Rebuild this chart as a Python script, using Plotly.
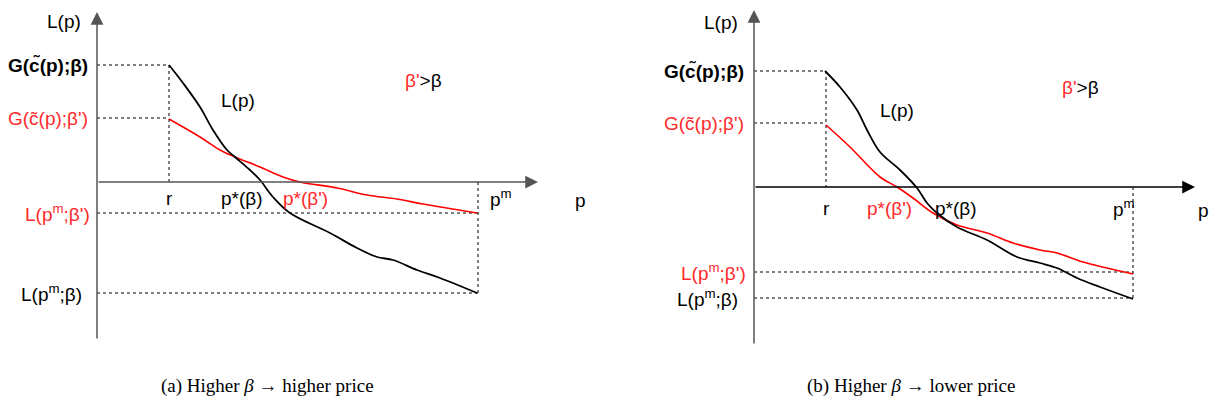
import plotly.graph_objects as go
from plotly.subplots import make_subplots

# panel (a): higher beta -> higher price
a_r, a_pm = 72, 381
a_G_b, a_G_bp = 117, 64
a_Lpm_b, a_Lpm_bp = -111, -31
a_black_x = [72, 86, 103, 116, 130, 138, 153, 163, 176, 193, 233, 260, 280, 296, 320, 343, 380]
a_black_y = [117, 99, 75, 52, 32, 25, 12, 2, -15, -31, -51, -66, -75, -78, -88, -96, -111]
a_red_x = [72, 103, 123, 138, 163, 186, 203, 240, 270, 300, 326, 380]
a_red_y = [63, 45, 32, 25, 15, 5, 0, -6, -13, -17, -22, -31]
a_pstar_b, a_pstar_bp = 145, 208

# panel (b): higher beta -> lower price
b_r, b_pm = 72, 379
b_G_b, b_G_bp = 116, 64
b_Lpm_b, b_Lpm_bp = -111, -85
b_black_x = [71, 86, 103, 113, 126, 146, 163, 173, 183, 203, 233, 263, 286, 303, 323, 346, 379]
b_black_y = [116, 100, 77, 57, 35, 17, -1, -16, -26, -40, -53, -70, -76, -81, -91, -100, -112]
b_red_x = [72, 96, 126, 143, 159, 179, 203, 233, 259, 286, 303, 329, 379]
b_red_y = [62, 40, 10, 0, -11, -26, -38, -46, -56, -63, -66, -75, -87]
b_pstar_b, b_pstar_bp = 202, 135

RED = "#ff2a2a"
FONT = "Liberation Sans"

fig = make_subplots(rows=1, cols=2, horizontal_spacing=0)


def panel(col, r, pm, G_b, G_bp, Lpm_b, Lpm_bp, bx, by, rx, ry, ps_b, ps_bp,
          ytop, ybot, xend, xaxis_col, lab, o):
    dot = dict(color="black", width=1, dash="dot")
    # dotted guides
    for yv in (G_b, G_bp):
        fig.add_trace(go.Scatter(x=[0, r], y=[yv, yv], mode="lines", line=dot), row=1, col=col)
    fig.add_trace(go.Scatter(x=[r, r], y=[G_b, 0], mode="lines", line=dot), row=1, col=col)
    for yv in (Lpm_b, Lpm_bp):
        fig.add_trace(go.Scatter(x=[0, pm], y=[yv, yv], mode="lines", line=dot), row=1, col=col)
    fig.add_trace(go.Scatter(x=[pm, pm], y=[0, Lpm_b], mode="lines", line=dot), row=1, col=col)
    # curves
    fig.add_trace(go.Scatter(x=rx, y=ry, mode="lines", line=dict(color="red", width=1.6, shape="spline")), row=1, col=col)
    fig.add_trace(go.Scatter(x=bx, y=by, mode="lines", line=dict(color="black", width=1.8, shape="spline")), row=1, col=col)
    xr = "x" if col == 1 else "x2"
    yr = "y" if col == 1 else "y2"
    # axes with arrows
    fig.add_annotation(x=0, y=ytop, ax=0, ay=ybot, xref=xr, yref=yr, axref=xr, ayref=yr,
                       showarrow=True, arrowhead=2, arrowsize=1.7, arrowwidth=1.5,
                       arrowcolor="#555555", text="")
    fig.add_annotation(x=xend, y=0, ax=0, ay=0, xref=xr, yref=yr, axref=xr, ayref=yr,
                       showarrow=True, arrowhead=2, arrowsize=1.7, arrowwidth=1.5,
                       arrowcolor=xaxis_col, text="")

    def txt(x, y, s, color="black", xanchor="center", size=19):
        fig.add_annotation(x=x, y=y, xref=xr, yref=yr, text=s, showarrow=False,
                           xanchor=xanchor, yanchor="middle",
                           font=dict(family=FONT, size=size, color=color))

    txt(-14, o["Lty"], "L(p)", xanchor="right")
    txt(o["gx"], G_b, "<b>G(c̃(p);β)</b>", xanchor="right")
    txt(o["gx"], G_bp, "G(c̃(p);β')", RED, xanchor="right")
    txt(o["gx"] + 2, Lpm_bp, "L(p<sup>m</sup>;β')", RED, xanchor="right")
    txt(o["gx"] - 6, Lpm_b, "L(p<sup>m</sup>;β)", xanchor="right")
    txt(r, o["ly"], "r")
    txt(ps_b, o["ly"], "p*(β)")
    txt(ps_bp, o["ly"], "p*(β')", RED)
    txt(pm + o["pmx"], o["ly"], "p<sup>m</sup>")
    txt(xend + o["px"], o["ly"] - 2, "p")
    txt(o["Lx"], o["Ly"], "L(p)")
    txt(326, o["by"], "<span style='color:%s'>β'</span>&gt;β" % RED)
    fig.add_annotation(x=o["cx"], y=0.08, xref="paper", yref="paper",
                       text=lab, showarrow=False, xanchor="center", yanchor="middle",
                       font=dict(family="Liberation Serif", size=19, color="black"))


panel(1, a_r, a_pm, a_G_b, a_G_bp, a_Lpm_b, a_Lpm_bp, a_black_x, a_black_y,
      a_red_x, a_red_y, a_pstar_b, a_pstar_bp, 170, -158, 441, "#555555",
      "(a) Higher <i>β</i> → higher price",
      dict(gx=-7, ly=-16, pmx=23, px=42, Lx=141, Ly=82, by=102, cx=0.2115, Lty=161))
panel(2, b_r, b_pm, b_G_b, b_G_bp, b_Lpm_b, b_Lpm_bp, b_black_x, b_black_y,
      b_red_x, b_red_y, b_pstar_b, b_pstar_bp, 177, -158, 441, "black",
      "(b) Higher <i>β</i> → lower price",
      dict(gx=-8, ly=-21, pmx=-9, px=8, Lx=143, Ly=77, by=100, cx=0.7345, Lty=165))

fig.update_xaxes(visible=False)
fig.update_yaxes(visible=False)
fig.update_layout(
    width=1229, height=411, margin=dict(l=0, r=0, t=0, b=0),
    showlegend=False, plot_bgcolor="white", paper_bgcolor="white",
    xaxis=dict(domain=[0, 0.5], range=[-89, 525.5]),
    yaxis=dict(domain=[0, 1], range=[-237, 174]),
    xaxis2=dict(domain=[0.5, 1], range=[-131.5, 483]),
    yaxis2=dict(domain=[0, 1], range=[-232, 179]),
)

fig.write_html("out.html")
